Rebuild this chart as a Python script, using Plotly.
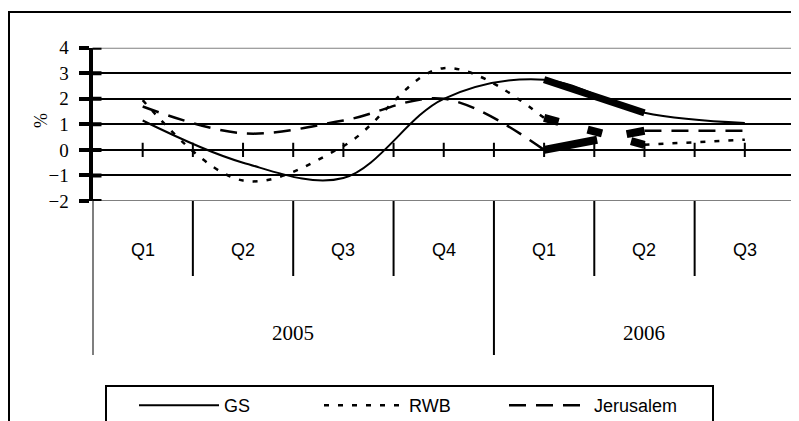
import plotly.graph_objects as go

# ---- data ----
quarters = ["Q1", "Q2", "Q3", "Q4", "Q1", "Q2", "Q3"]
years = ["2005", "2006"]
year_first = [0, 4]
year_last = [3, 6]
gs = [1.15, -0.5, -1.1, 2.0, 2.75, 1.45, 1.05]
rwb = [1.95, -1.2, 0.15, 3.2, 1.25, 0.2, 0.4]
jer = [1.7, 0.65, 1.15, 2.0, 0.0, 0.75, 0.75]
y_ticks = [-2, -1, 0, 1, 2, 3, 4]
fc_start, fc_end = 4, 5   # highlighted (thick) segment: Q1 2006 -> Q2 2006

W, H = 799, 421
OFF = 8  # page body margin offset
X0, X1 = 92.5, 795.0
Y_TOP, Y_BOT = 47.7, 201.0


def px_x(p):
    return (p - OFF) / W


def px_y(p):
    return 1 - (p - OFF) / H


SERIF = "Liberation Serif, Times New Roman, serif"
SANS = "Liberation Sans, Arial, sans-serif"

x = list(range(len(quarters)))
fig = go.Figure()

thin = dict(color="black", shape="spline")
# GS
fig.add_trace(go.Scatter(x=x, y=gs, mode="lines", name="GS",
                         line=dict(thin, width=2)))
fig.add_trace(go.Scatter(x=x[fc_start:fc_end + 1], y=gs[fc_start:fc_end + 1], mode="lines",
                         showlegend=False, line=dict(color="black", width=7)))
# RWB
rwb_line = dict(thin, width=2.5, dash="5px,9px")
fig.add_trace(go.Scatter(x=x[:fc_start + 1], y=rwb[:fc_start + 1], mode="lines", name="RWB",
                         line=rwb_line))
fig.add_trace(go.Scatter(x=x[fc_start:fc_end + 1], y=rwb[fc_start:fc_end + 1], mode="lines",
                         showlegend=False, line=dict(color="black", width=8, dash="15px,30px")))
fig.add_trace(go.Scatter(x=x[fc_end:], y=rwb[fc_end:], mode="lines", showlegend=False,
                         line=rwb_line))
# Jerusalem
jer_line = dict(thin, width=2.5, dash="17px,10px")
fig.add_trace(go.Scatter(x=x[:fc_start + 1], y=jer[:fc_start + 1], mode="lines", name="Jerusalem",
                         line=jer_line, legendwidth=113))
fig.add_trace(go.Scatter(x=x[fc_start:fc_end + 1], y=jer[fc_start:fc_end + 1], mode="lines",
                         showlegend=False, line=dict(color="black", width=8, dash="54px,30px")))
fig.add_trace(go.Scatter(x=x[fc_end:], y=jer[fc_end:], mode="lines", showlegend=False,
                         line=jer_line))

shapes = []
# outer chart border
shapes.append(dict(type="rect", xref="paper", yref="paper", x0=px_x(9), x1=1.05,
                   y0=-0.1, y1=px_y(12), line=dict(color="black", width=2), layer="below"))
# gray plot-area border (top, bottom, right)
xmin, xmax = -0.5, len(quarters) - 0.5
for yv in (y_ticks[0], y_ticks[-1]):
    shapes.append(dict(type="line", xref="x", yref="y", x0=xmin, x1=xmax, y0=yv, y1=yv,
                       line=dict(color="#808080", width=2), layer="above"))
shapes.append(dict(type="line", xref="x", yref="y", x0=xmax, x1=xmax, y0=y_ticks[0], y1=y_ticks[-1],
                   line=dict(color="#808080", width=2), layer="above"))
# inner half of y crossing ticks
for yv in y_ticks:
    shapes.append(dict(type="line", xref="paper", yref="y", x0=px_x(X0), x1=px_x(X0 + 9),
                       y0=yv, y1=yv, line=dict(color="black", width=4), layer="above"))
# crossing tick marks on the zero line
for k in range(1, 2 * len(quarters) + 1):
    xv = -0.5 + 0.5 * k
    shapes.append(dict(type="line", xref="x", yref="y", x0=xv, x1=xv, y0=-0.28, y1=0.28,
                       line=dict(color="black", width=2), layer="above"))
# category separators below the plot
long_bounds = [year_first[0] - 0.5] + [l + 0.5 for l in year_last]
for i in range(len(quarters) + 1):
    b = i - 0.5
    is_long = any(abs(b - lb) < 1e-9 for lb in long_bounds)
    shapes.append(dict(type="line", xref="x", yref="paper", x0=b, x1=b,
                       y0=px_y(Y_BOT), y1=px_y(355 if is_long else 276),
                       line=dict(color="black", width=2)))

annotations = []
for i, q in enumerate(quarters):
    annotations.append(dict(x=i, y=px_y(250), xref="x", yref="paper", text=q, showarrow=False,
                            xanchor="center", yanchor="middle",
                            font=dict(family=SANS, size=18, color="black")))
for yr, a, b in zip(years, year_first, year_last):
    annotations.append(dict(x=(a + b) / 2, y=px_y(333), xref="x", yref="paper", text=yr,
                            showarrow=False, xanchor="center", yanchor="middle",
                            font=dict(family=SERIF, size=21, color="black")))
annotations.append(dict(x=px_x(41), y=px_y(121), xref="paper", yref="paper", text="%",
                        textangle=-90, showarrow=False, xanchor="center", yanchor="middle",
                        font=dict(family=SERIF, size=18, color="black")))

fig.update_layout(
    width=W, height=H, autosize=False,
    margin=dict(l=0, r=0, t=0, b=0, pad=0, autoexpand=False),
    paper_bgcolor="white", plot_bgcolor="white",
    xaxis=dict(domain=[px_x(X0), px_x(X1)], range=[xmin, xmax], showgrid=False,
               zeroline=False, showline=False, showticklabels=False, ticks=""),
    yaxis=dict(domain=[px_y(Y_BOT), px_y(Y_TOP)], range=[y_ticks[0], y_ticks[-1]],
               tickvals=y_ticks, showgrid=True, gridcolor="black", gridwidth=2,
               zeroline=False, showline=True, linecolor="black", linewidth=4,
               ticks="outside", ticklen=10, tickwidth=4, tickcolor="black",
               ticklabelstandoff=6,
               tickfont=dict(family=SERIF, size=19, color="black")),
    shapes=shapes,
    annotations=annotations,
    showlegend=True,
    legend=dict(orientation="h", x=px_x(105), y=px_y(385), xanchor="left", yanchor="top",
                bordercolor="black", borderwidth=2, bgcolor="white",
                itemwidth=80, entrywidth=63, indentation=27,
                font=dict(family=SANS, size=18, color="black")),
)

fig.write_html("out.html")
